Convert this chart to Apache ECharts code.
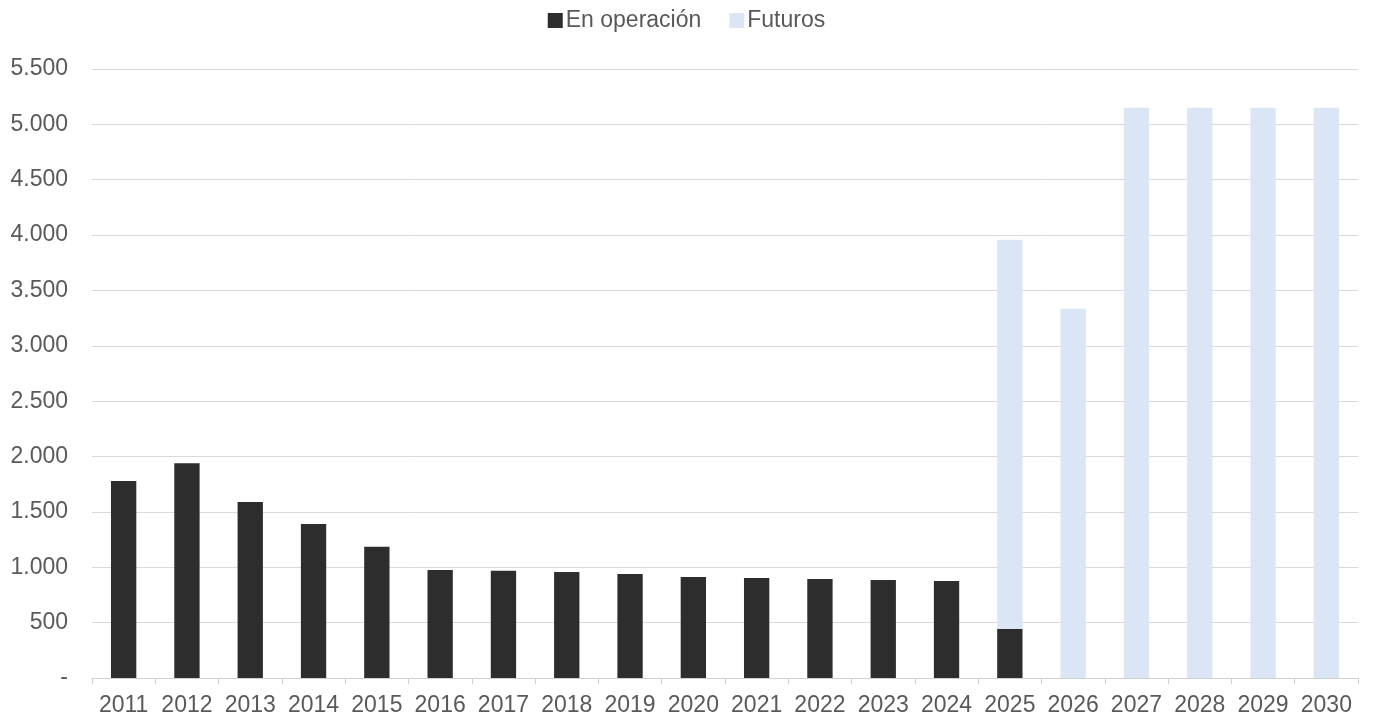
<!DOCTYPE html>
<html>
<head>
<meta charset="utf-8">
<script src="https://cdn.jsdelivr.net/npm/echarts@6/dist/echarts.min.js"></script>
<style>
  html, body { margin: 0; padding: 0; background: #fff; }
  #chart { width: 1373px; height: 720px; }
</style>
</head>
<body>
<div id="chart"></div>
<script>
const years = ['2011', '2012', '2013', '2014', '2015', '2016', '2017', '2018', '2019', '2020',
  '2021', '2022', '2023', '2024', '2025', '2026', '2027', '2028', '2029', '2030']
// operating capacity
const enOperacion = [1780, 1940, 1590, 1390, 1185, 975, 968, 958, 940, 912,
  903, 894, 885, 877, 443, 0, 0, 0, 0, 0]
// future capacity (stacked on top)
const futuros = [0, 0, 0, 0, 0, 0, 0, 0, 0, 0,
  0, 0, 0, 0, 3515, 3335, 5150, 5150, 5150, 5150]

const fmt = v => v === 0 ? '-' : String(v).replace(/\B(?=(\d{3})+(?!\d))/g, '.')

const chart = echarts.init(document.getElementById('chart'))
chart.setOption({
  animation: false,
  textStyle: { fontFamily: 'Liberation Sans, Arial, sans-serif' },
  legend: {
    top: 4,
    left: 'center',
    itemWidth: 15,
    itemHeight: 15,
    itemGap: 28,
    icon: 'rect',
    textStyle: { color: '#595959', fontSize: 23, padding: [0, 0, 0, -2] },
    data: ['En operación', 'Futuros']
  },
  grid: { left: 92, right: 15, top: 69, bottom: 42 },
  xAxis: {
    type: 'category',
    data: years,
    axisLine: { lineStyle: { color: '#d0d0d0', width: 1 } },
    axisTick: { show: true, length: 6, lineStyle: { color: '#d0d0d0' } },
    axisLabel: { color: '#595959', fontSize: 23, margin: 16, interval: 0 }
  },
  yAxis: {
    type: 'value',
    min: 0,
    max: 5500,
    interval: 500,
    axisLine: { show: false },
    axisTick: { show: false },
    splitLine: { lineStyle: { color: '#d9d9d9', width: 1 } },
    axisLabel: { color: '#595959', fontSize: 23, margin: 24, formatter: fmt }
  },
  series: [
    {
      name: 'En operación',
      type: 'bar',
      stack: 'total',
      barWidth: '40%',
      data: enOperacion,
      itemStyle: { color: '#2d2d2d' }
    },
    {
      name: 'Futuros',
      type: 'bar',
      stack: 'total',
      barWidth: '40%',
      data: futuros,
      itemStyle: { color: '#dae6f5' }
    }
  ]
})
</script>
</body>
</html>
